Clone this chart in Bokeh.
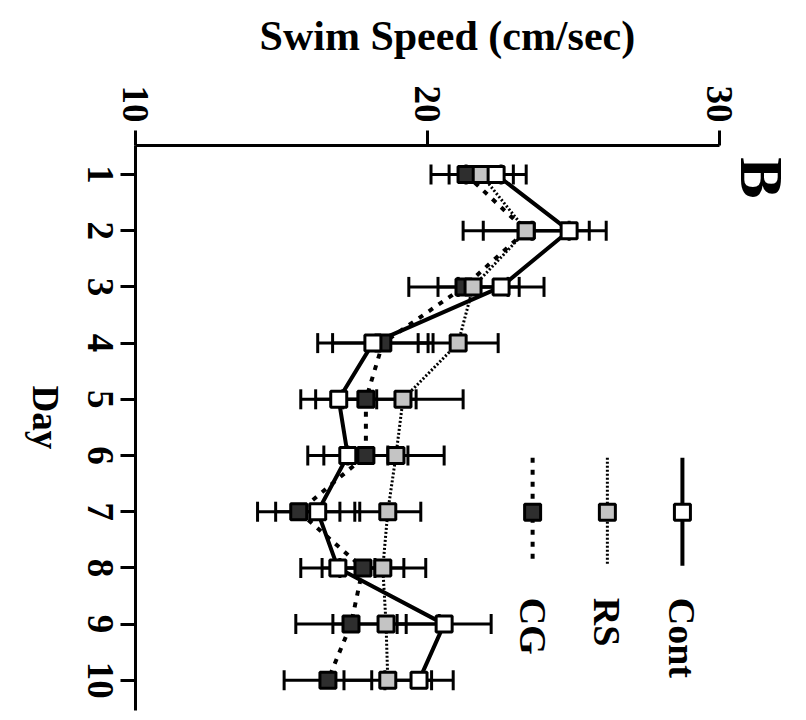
import math
from bokeh.plotting import figure
from bokeh.models import (Range1d, FixedTicker, ColumnDataSource, Whisker, TeeHead, Label,
                          LinearAxis, PrintfTickFormatter)
from bokeh.core.properties import value
from bokeh.embed import file_html
from bokeh.resources import INLINE

# ---------------- data ----------------
days = [1, 2, 3, 4, 5, 6, 7, 8, 9, 10]
day_ticks = [1, 2, 3, 4, 5, 6, 7, 8, 9, 10]
speed_ticks = [10, 20, 30]

cont = [22.35, 24.85, 22.52, 18.13, 16.96, 17.27, 16.24, 16.93, 20.57, 19.71]
cont_err = [1.03, 1.27, 1.47, 1.89, 1.30, 1.37, 1.44, 1.27, 1.61, 1.17]

rs = [21.84, 23.38, 21.56, 21.05, 19.16, 18.92, 18.64, 18.47, 18.58, 18.64]
rs_err = [1.10, 2.16, 1.20, 1.37, 2.06, 1.65, 1.13, 1.47, 1.82, 1.50]

cg = [21.32, 23.38, 21.25, 18.47, 17.89, 17.89, 15.59, 17.79, 17.38, 16.59]
cg_err = [1.20, 1.47, 1.89, 1.72, 1.72, 1.44, 1.41, 1.40, 1.89, 1.50]

series_names = ["Cont", "RS", "CG"]
x_title = "Swim Speed (cm/sec)"
y_title = "Day"

FONT = "Liberation Serif"
TICK_FS = 37                      # px
Y0, Y1 = 10.537, 0.484            # day range (inverted)
FRAME_H = 716 - 145 - 6
PX_PER_DAY = FRAME_H / (Y0 - Y1)

p = figure(width=800, height=716,
           x_range=Range1d(10, 32.774), y_range=Range1d(Y0, Y1),
           x_axis_location="above", y_axis_location="left",
           output_backend="svg", toolbar_location=None,
           min_border_left=135, min_border_right=0,
           min_border_top=145, min_border_bottom=6)
p.grid.visible = False
p.outline_line_color = None
p.background_fill_color = "white"
p.border_fill_color = "white"
p.title.visible = False


def style_labels(ax, size, standoff, orient):
    ax.major_label_text_font = FONT
    ax.major_label_text_font_style = "bold"
    ax.major_label_text_font_size = f"{size}px"
    ax.major_label_text_color = "black"
    ax.major_label_orientation = orient
    ax.major_label_standoff = standoff


def label_only(ax):
    ax.axis_line_color = None
    ax.major_tick_line_color = None
    ax.minor_tick_line_color = None
    ax.major_tick_out = 0
    ax.major_tick_in = 0
    ax.minor_tick_out = 0
    ax.minor_tick_in = 0


for ax, ticks in ((p.xaxis[0], speed_ticks), (p.yaxis[0], day_ticks)):
    ax.ticker = FixedTicker(ticks=ticks)
    ax.axis_line_width = 3
    ax.axis_line_color = "black"
    ax.major_tick_line_width = 3
    ax.major_tick_line_color = "black"
    ax.major_tick_out = 15
    ax.major_tick_in = 0
    ax.minor_tick_out = 0
    ax.minor_tick_in = 0
p.xaxis[0].bounds = (10, 30)
style_labels(p.xaxis[0], TICK_FS, 8, -math.pi / 2)

# day axis: ticks only; its rotated numbers come from a label-only axis whose
# label anchors are shifted by half a label length so each number is centred
yax = p.yaxis[0]
yax.major_label_overrides = {d: "" for d in day_ticks}
style_labels(yax, TICK_FS, 0, -math.pi / 2)

half_digit = 0.25 * TICK_FS / PX_PER_DAY
num_pos = [d + len(str(d)) * half_digit for d in day_ticks]
num_axis = LinearAxis(ticker=FixedTicker(ticks=num_pos),
                      major_label_overrides={pos: str(d) for pos, d in zip(num_pos, day_ticks)})
label_only(num_axis)
style_labels(num_axis, TICK_FS, 20, -math.pi / 2)
p.add_layout(num_axis, "left")

# "Day" label, rotated clockwise
DAY_FS = 37
day_center = 5.32
day_len = 1.722 * DAY_FS / PX_PER_DAY
day_axis = LinearAxis(ticker=FixedTicker(ticks=[day_center + day_len / 2]),
                      formatter=PrintfTickFormatter(format=y_title))
label_only(day_axis)
style_labels(day_axis, DAY_FS, 27, -math.pi / 2)
p.add_layout(day_axis, "left")

# horizontal title above the speed axis
title_axis = LinearAxis(ticker=FixedTicker(ticks=[20.68]),
                        formatter=PrintfTickFormatter(format=x_title))
label_only(title_axis)
style_labels(title_axis, 42, 24, "horizontal")
p.add_layout(title_axis, "above")

# ---------------- series ----------------
styles = {
    "CG":   dict(vals=cg, err=cg_err, fill="#2e2e2e", dash="5 7", lw=4),
    "RS":   dict(vals=rs, err=rs_err, fill="#c4c4c4", dash="2 2", lw=3),
    "Cont": dict(vals=cont, err=cont_err, fill="white", dash="solid", lw=4),
}
order = ["CG", "RS", "Cont"]
sources = {}
for name in order:
    st = styles[name]
    src = ColumnDataSource(dict(
        day=days, val=st["vals"],
        lo=[v - e for v, e in zip(st["vals"], st["err"])],
        hi=[v + e for v, e in zip(st["vals"], st["err"])],
    ))
    sources[name] = src
    w = Whisker(source=src, base="day", lower="lo", upper="hi", dimension="width",
                line_width=3, line_color="black",
                upper_head=TeeHead(size=20, line_width=3, line_color="black"),
                lower_head=TeeHead(size=20, line_width=3, line_color="black"))
    p.add_layout(w)

for name in order:
    st = styles[name]
    p.line(x="val", y="day", source=sources[name], line_color="black",
           line_width=st["lw"], line_dash=st["dash"])
for name in order:
    st = styles[name]
    p.scatter(x="val", y="day", source=sources[name], marker="square", size=16,
              fill_color=st["fill"], line_color="black", line_width=3)

# ---------------- legend (drawn by hand, rotated) ----------------
leg_x = [28.73, 26.16, 23.60]          # Cont, RS, CG
leg_y0, leg_y1, leg_ym, leg_ty = 6.04, 7.96, 7.01, 8.53
for name, lx in zip(series_names, leg_x):
    st = styles[name]
    p.line(x=[lx, lx], y=[leg_y0, leg_y1], line_color="black",
           line_width=st["lw"], line_dash=st["dash"])
    p.scatter(x=[lx], y=[leg_ym], marker="square", size=16,
              fill_color=st["fill"], line_color="black", line_width=3)
p.text(x=leg_x, y=[leg_ty] * 3, text=series_names, angle=-math.pi / 2,
       text_align="left", text_baseline="middle",
       text_font=value(FONT), text_font_style="bold", text_font_size="38px",
       text_color="black")

# panel letter
p.add_layout(Label(x=31.47, y=1.06, text="B", angle=-math.pi / 2,
                   text_align="center", text_baseline="middle",
                   text_font=FONT, text_font_style="bold", text_font_size="62px",
                   text_color="black"))

open("out.html", "w").write(file_html(p, INLINE))
